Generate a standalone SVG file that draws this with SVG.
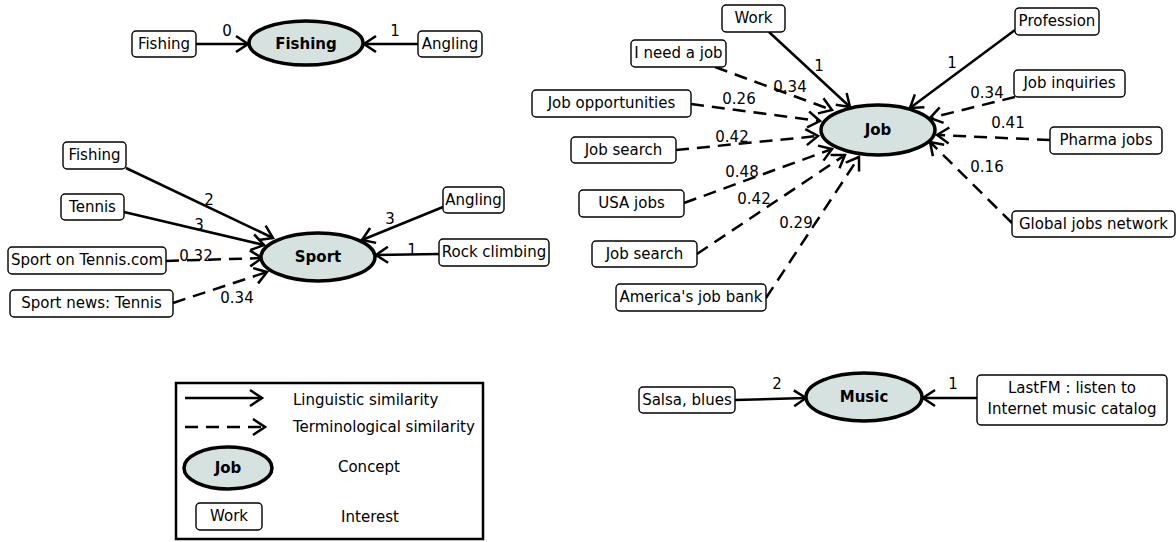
<svg xmlns="http://www.w3.org/2000/svg" width="1176" height="542" viewBox="0 0 1176 542">
<style>
text{font-family:"DejaVu Sans","Liberation Sans",sans-serif;font-size:15px;fill:#000}
.c{text-anchor:middle}
.b{font-weight:bold}
.box{fill:#fff;stroke:#000;stroke-width:1.4}
.con{fill:#d6e2e0;stroke:#000;stroke-width:3.5}
.e{fill:none;stroke:#000;stroke-width:2.5}
.d{stroke-dasharray:13,8}
</style>
<defs>
<marker id="a" viewBox="0 0 16 20" refX="14" refY="10" markerWidth="16" markerHeight="20" markerUnits="userSpaceOnUse" orient="auto">
<path d="M2,2 L14,10 L2,18" fill="none" stroke="#000" stroke-width="2.5" stroke-dasharray="none"/>
</marker>
</defs>

<g id="connectors">
<path class="e" marker-end="url(#a)" d="M196,44 L248,44"/>
<path class="e" marker-end="url(#a)" d="M418,44 L364,44"/>
<path class="e" marker-end="url(#a)" d="M126,168 L273,238"/>
<path class="e" marker-end="url(#a)" d="M124,212 L264,245"/>
<path class="e d" marker-end="url(#a)" d="M166,261 L262,258"/>
<path class="e d" marker-end="url(#a)" d="M173,303 L267,272"/>
<path class="e" marker-end="url(#a)" d="M443,207 L362,240"/>
<path class="e" marker-end="url(#a)" d="M439,254 L376,255"/>
<path class="e" marker-end="url(#a)" d="M769,32 L850,107"/>
<path class="e d" marker-end="url(#a)" d="M715,67 L832,110"/>
<path class="e d" marker-end="url(#a)" d="M691,104 L820,121"/>
<path class="e d" marker-end="url(#a)" d="M676,150 L818,136"/>
<path class="e d" marker-end="url(#a)" d="M684,203 L832,149"/>
<path class="e d" marker-end="url(#a)" d="M697,254 L845,155"/>
<path class="e d" marker-end="url(#a)" d="M766,298 L859,157"/>
<path class="e" marker-end="url(#a)" d="M1015,30 L910,108"/>
<path class="e d" marker-end="url(#a)" d="M1015,97 L930,118"/>
<path class="e d" marker-end="url(#a)" d="M1050,140 L937,135"/>
<path class="e d" marker-end="url(#a)" d="M1012,223 L930,142"/>
<path class="e" marker-end="url(#a)" d="M735,400 L806,398"/>
<path class="e" marker-end="url(#a)" d="M977,398 L923,398"/>
<text class="c" x="227" y="36">0</text>
<text class="c" x="395" y="36">1</text>
<text class="c" x="209" y="205">2</text>
<text class="c" x="199" y="230">3</text>
<text class="c" x="196" y="261">0.32</text>
<text class="c" x="237" y="303">0.34</text>
<text class="c" x="390" y="224">3</text>
<text class="c" x="412" y="255">1</text>
<text class="c" x="819" y="71">1</text>
<text class="c" x="790" y="92">0.34</text>
<text class="c" x="739" y="104">0.26</text>
<text class="c" x="732" y="142">0.42</text>
<text class="c" x="742" y="177">0.48</text>
<text class="c" x="754" y="204">0.42</text>
<text class="c" x="796" y="228">0.29</text>
<text class="c" x="952" y="68">1</text>
<text class="c" x="987" y="98">0.34</text>
<text class="c" x="1008" y="128">0.41</text>
<text class="c" x="987" y="172">0.16</text>
<text class="c" x="777" y="389">2</text>
<text class="c" x="953" y="389">1</text>
</g>

<g id="concept-fishing"><ellipse class="con" cx="306" cy="43" rx="57" ry="22"/><text class="c b" x="306" y="49">Fishing</text></g>
<g id="concept-sport"><ellipse class="con" cx="318" cy="257" rx="57" ry="24"/><text class="c b" x="318" y="262">Sport</text></g>
<g id="concept-job"><ellipse class="con" cx="878" cy="130" rx="57" ry="25"/><text class="c b" x="878" y="135">Job</text></g>
<g id="concept-music"><ellipse class="con" cx="864" cy="397" rx="58" ry="24"/><text class="c b" x="864" y="402">Music</text></g>

<g id="i-fishing1"><rect class="box" x="132" y="31" width="64" height="26" rx="4"/><text class="c" x="164" y="49">Fishing</text></g>
<g id="i-angling1"><rect class="box" x="418" y="31" width="64" height="26" rx="4"/><text class="c" x="450" y="49">Angling</text></g>
<g id="i-fishing2"><rect class="box" x="63" y="142" width="63" height="27" rx="4"/><text class="c" x="94.5" y="160">Fishing</text></g>
<g id="i-tennis"><rect class="box" x="61" y="194" width="63" height="26" rx="4"/><text class="c" x="92.5" y="212">Tennis</text></g>
<g id="i-sporttennis"><rect class="box" x="8" y="247" width="158" height="27" rx="4"/><text class="c" x="87" y="265">Sport on Tennis.com</text></g>
<g id="i-sportnews"><rect class="box" x="10" y="290" width="163" height="27" rx="4"/><text class="c" x="91.5" y="308">Sport news: Tennis</text></g>
<g id="i-angling2"><rect class="box" x="443" y="187" width="61" height="26" rx="4"/><text class="c" x="473.5" y="205">Angling</text></g>
<g id="i-rock"><rect class="box" x="439" y="239" width="110" height="27" rx="4"/><text class="c" x="494" y="257">Rock climbing</text></g>
<g id="i-work"><rect class="box" x="722" y="5" width="63" height="27" rx="4"/><text class="c" x="753.5" y="23">Work</text></g>
<g id="i-needjob"><rect class="box" x="631" y="40" width="95" height="27" rx="4"/><text class="c" x="678.5" y="58">I need a job</text></g>
<g id="i-jobopp"><rect class="box" x="532" y="90" width="159" height="27" rx="4"/><text class="c" x="611.5" y="108">Job opportunities</text></g>
<g id="i-jobsearch1"><rect class="box" x="571" y="137" width="105" height="26" rx="4"/><text class="c" x="623.5" y="155">Job search</text></g>
<g id="i-usajobs"><rect class="box" x="579" y="190" width="105" height="27" rx="4"/><text class="c" x="631.5" y="208">USA jobs</text></g>
<g id="i-jobsearch2"><rect class="box" x="592" y="241" width="105" height="26" rx="4"/><text class="c" x="644.5" y="259">Job search</text></g>
<g id="i-america"><rect class="box" x="616" y="284" width="150" height="27" rx="4"/><text class="c" x="691" y="302">America's job bank</text></g>
<g id="i-profession"><rect class="box" x="1015" y="8" width="84" height="27" rx="4"/><text class="c" x="1057" y="26">Profession</text></g>
<g id="i-inquiries"><rect class="box" x="1014" y="70" width="111" height="27" rx="4"/><text class="c" x="1069.5" y="88">Job inquiries</text></g>
<g id="i-pharma"><rect class="box" x="1050" y="127" width="112" height="27" rx="4"/><text class="c" x="1106" y="145">Pharma jobs</text></g>
<g id="i-global"><rect class="box" x="1012" y="211" width="163" height="26" rx="4"/><text class="c" x="1093.5" y="229">Global jobs network</text></g>
<g id="i-salsa"><rect class="box" x="639" y="387" width="96" height="26" rx="4"/><text class="c" x="687" y="405">Salsa, blues</text></g>
<g id="i-lastfm"><rect class="box" x="977" y="375" width="190" height="50" rx="4"/><text class="c" x="1072" y="393">LastFM : listen to</text><text class="c" x="1072" y="414">Internet music catalog</text></g>

<g id="legend">
<rect x="176" y="383" width="307" height="156" fill="#fff" stroke="#000" stroke-width="2.5"/>
<path class="e" marker-end="url(#a)" d="M185,398 L262,398"/>
<path class="e d" marker-end="url(#a)" d="M185,427 L265,427"/>
<ellipse class="con" cx="228" cy="468" rx="44" ry="21"/><text class="c b" x="228" y="473">Job</text>
<rect class="box" x="196" y="503" width="66" height="27" rx="4"/><text class="c" x="229" y="521">Work</text>
<text x="293" y="405">Linguistic similarity</text>
<text x="293" y="432">Terminological similarity</text>
<text class="c" x="369" y="472">Concept</text>
<text class="c" x="370" y="522">Interest</text>
</g>
</svg>
